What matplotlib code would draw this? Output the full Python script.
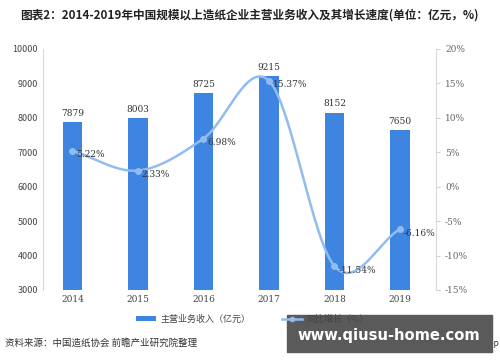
import matplotlib
matplotlib.use('Agg')
import matplotlib.pyplot as plt
import numpy as np

plt.rcParams['font.family'] = ['Noto Sans CJK SC', 'DejaVu Sans']

years = ['2014', '2015', '2016', '2017', '2018', '2019']
revenue = [7879, 8003, 8725, 9215, 8152, 7650]
growth = [5.22, 2.33, 6.98, 15.37, -11.54, -6.16]

bar_color = '#3d85e0'
line_color = '#92bcf0'


def smooth(xs, ys, n=40):
    # catmull-rom style smoothing like the excel "smoothed line"
    xs = np.asarray(xs, float)
    ys = np.asarray(ys, float)
    px = np.concatenate([[2 * xs[0] - xs[1]], xs, [2 * xs[-1] - xs[-2]]])
    py = np.concatenate([[2 * ys[0] - ys[1]], ys, [2 * ys[-1] - ys[-2]]])
    out_x, out_y = [], []
    for i in range(1, len(px) - 2):
        t = np.linspace(0, 1, n)
        for p, o in ((px, out_x), (py, out_y)):
            p0, p1, p2, p3 = p[i - 1], p[i], p[i + 1], p[i + 2]
            o.extend(0.5 * (2 * p1 + (-p0 + p2) * t
                            + (2 * p0 - 5 * p1 + 4 * p2 - p3) * t ** 2
                            + (-p0 + 3 * p1 - 3 * p2 + p3) * t ** 3))
    return np.array(out_x), np.array(out_y)


fig = plt.figure(figsize=(5, 3.62), dpi=100)
ax = fig.add_axes([0.086, 0.199, 0.786, 0.666])
x = np.arange(len(years))

ax.bar(x, revenue, width=0.3, color=bar_color, zorder=2, label='主营业务收入（亿元）')
for xi, v in zip(x, revenue):
    ax.text(xi, v + 120, str(v), ha='center', va='bottom', fontsize=6.5,
            family='DejaVu Serif', color='#333333')
ax.set_ylim(3000, 10000)
ax.set_yticks(range(3000, 10001, 1000))
ax.set_xlim(-0.45, len(years) - 0.45)
ax.set_xticks(x)
ax.set_xticklabels(years, family='DejaVu Serif')
ax.tick_params(axis='both', labelsize=6.5, colors='#444444', length=0)

ax2 = ax.twinx()
sx, sy = smooth(x, growth)
ax2.plot(sx, sy, color=line_color, lw=1.8, zorder=3)
ax2.plot(x, growth, 'o', color=line_color, ms=4, zorder=3)
ax2.plot([], [], color=line_color, lw=1.8, marker='o', ms=3, label='同比增长（%）')
for xi, v in zip(x, growth):
    ax2.text(xi + 0.06, v - 0.6, '%.2f%%' % v, ha='left', va='center', fontsize=6.5,
             family='DejaVu Serif', color='#333333')
ax2.set_ylim(-15, 20)
ax2.set_yticks(range(-15, 21, 5))
ax2.set_yticklabels(['%d%%' % t for t in range(-15, 21, 5)], family='DejaVu Serif')
ax2.tick_params(axis='y', labelsize=6.5, colors='#666666', length=3, color='#d0d0d0')

for a in (ax, ax2):
    for s in a.spines.values():
        s.set_visible(False)
ax.spines['left'].set_visible(True)
ax.spines['left'].set_color('#d9d9d9')
ax2.spines['right'].set_visible(True)
ax2.spines['right'].set_color('#d9d9d9')

h1, l1 = ax.get_legend_handles_labels()
h2, l2 = ax2.get_legend_handles_labels()
fig.legend(h1 + h2, l1 + l2, loc='center', bbox_to_anchor=(0.505, 0.119), ncol=2,
           frameon=False, fontsize=6.5, handlelength=2.2, handleheight=0.4,
           handletextpad=0.5, columnspacing=3.5, labelcolor='#444444')

fig.text(0.04, 0.958, '图表2：2014-2019年中国规模以上造纸企业主营业务收入及其增长速度(单位：亿元，%)',
         fontsize=8.4, fontweight='bold', va='center', color='#222222')
fig.text(0.01, 0.052, '资料来源：中国造纸协会 前瞻产业研究院整理', fontsize=6.8,
         va='center', color='#333333')
fig.text(0.998, 0.045, '@前瞻经济学人APP', fontsize=6, va='center', ha='right', color='#333333')

# site watermark box
fig.patches.append(plt.Rectangle((0.573, 0.028), 0.41, 0.102, transform=fig.transFigure,
                                 color='#5a5a5a', zorder=5))
fig.text(0.777, 0.072, 'www.qiusu-home.com', fontsize=10.6, fontweight='bold',
         color='white', ha='center', va='center', zorder=6, family='DejaVu Sans')

fig.savefig('out.png', dpi=100)
